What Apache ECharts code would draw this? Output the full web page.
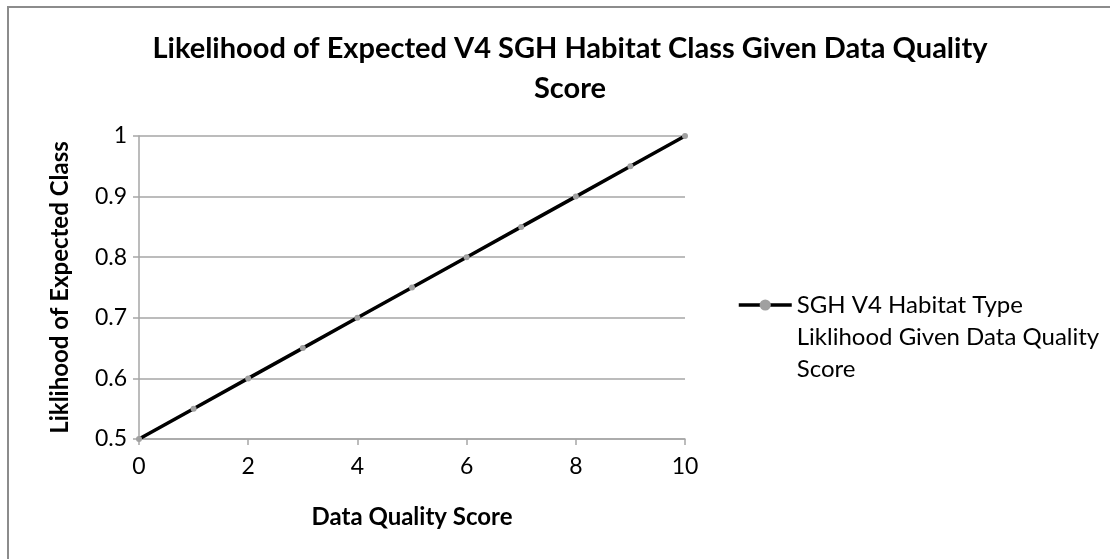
<!DOCTYPE html>
<html>
<head>
<meta charset="utf-8">
<script src="https://cdn.jsdelivr.net/npm/echarts@6/dist/echarts.min.js"></script>
<style>
  html, body { margin: 0; padding: 0; background: #fff; }
  #main { width: 1110px; height: 559px; }
</style>
</head>
<body>
<div id="main"></div>
<script>
  // data
  var scores = [0, 1, 2, 3, 4, 5, 6, 7, 8, 9, 10];
  var likelihood = [0.5, 0.55, 0.6, 0.65, 0.7, 0.75, 0.8, 0.85, 0.9, 0.95, 1.0];
  var seriesName = 'SGH V4 Habitat Type Liklihood Given Data Quality Score';

  var font = 'Lato, "Liberation Sans", sans-serif';
  var grey = '#a6a6a6';

  var chart = echarts.init(document.getElementById('main'));
  var option = {
    backgroundColor: '#fff',
    animation: false,
    title: {
      text: 'Likelihood of Expected V4 SGH Habitat Class Given Data Quality\nScore',
      left: 565,
      textAlign: 'center',
      top: 24,
      textStyle: { fontFamily: font, fontSize: 29, fontWeight: 'bold', color: '#000', lineHeight: 40 }
    },
    legend: {
      left: 737,
      top: 225,
      padding: 0,
      itemWidth: 53,
      itemHeight: 14,
      data: [seriesName],
      lineStyle: { width: 3.5, color: '#000' },
      // two blank lines first so the icon sits beside the first line of text
      formatter: function () {
        return '\n\nSGH V4 Habitat Type\nLiklihood Given Data Quality\nScore';
      },
      textStyle: { fontFamily: font, fontSize: 24, color: '#000', lineHeight: 32 }
    },
    graphic: [{
      type: 'rect',
      shape: { x: 8, y: 7, width: 1110, height: 560 },
      style: { fill: 'none', stroke: '#8c8c8c', lineWidth: 2 },
      silent: true
    }],
    grid: { left: 139, right: 425, top: 136, bottom: 120 },
    xAxis: {
      type: 'value',
      min: 0, max: 10, interval: 2,
      name: 'Data Quality Score',
      nameLocation: 'middle',
      nameGap: 66,
      nameTextStyle: { fontFamily: font, fontSize: 24, fontWeight: 'bold', color: '#000' },
      axisLine: { lineStyle: { color: grey, width: 1.5 } },
      axisTick: { show: true, length: 6, lineStyle: { color: grey, width: 1.5 } },
      axisLabel: { fontFamily: font, fontSize: 23, color: '#000', margin: 16 },
      splitLine: { show: false }
    },
    yAxis: {
      type: 'value',
      min: 0.5, max: 1, interval: 0.1,
      name: 'Liklihood of Expected Class',
      nameLocation: 'middle',
      nameGap: 67,
      nameTextStyle: { fontFamily: font, fontSize: 24, fontWeight: 'bold', color: '#000' },
      axisLine: { show: true, lineStyle: { color: grey, width: 1.5 } },
      axisTick: { show: true, length: 6, lineStyle: { color: grey, width: 1.5 } },
      axisLabel: { fontFamily: font, fontSize: 23, color: '#000', margin: 12 },
      splitLine: { lineStyle: { color: grey, width: 1.5 } }
    },
    series: [{
      name: seriesName,
      type: 'line',
      data: scores.map(function (s, i) { return [s, likelihood[i]]; }),
      lineStyle: { color: '#000', width: 3.5 },
      itemStyle: { color: '#a0a0a0', borderWidth: 0 },
      symbol: 'circle',
      symbolSize: 6,
      showSymbol: true
    }]
  };
  chart.setOption(option);
</script>
</body>
</html>
